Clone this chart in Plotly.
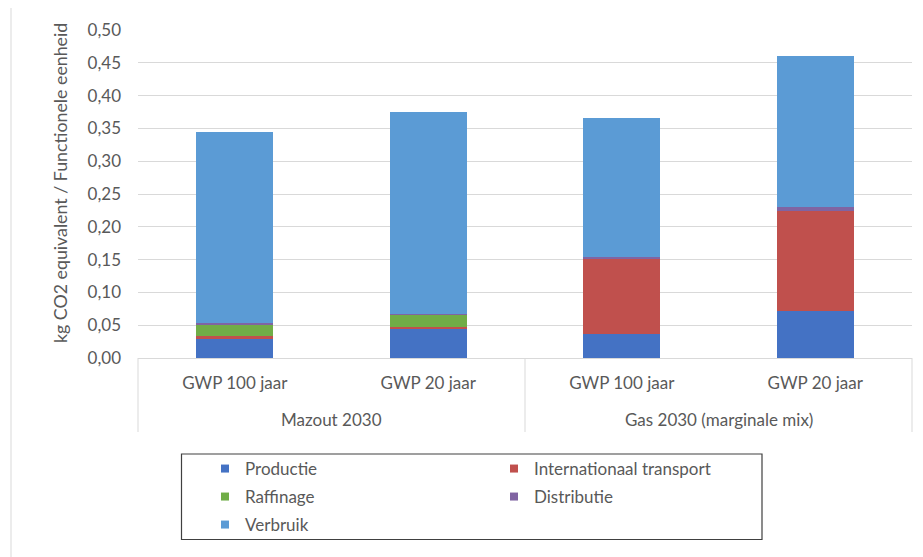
import plotly.graph_objects as go

# ---- data ----
categories = ["GWP 100 jaar", "GWP 20 jaar", "GWP 100 jaar", "GWP 20 jaar"]
group_labels = ["Mazout 2030", "Gas 2030 (marginale mix)"]
productie = [0.029, 0.045, 0.037, 0.071]
internationaal_transport = [0.0045, 0.0025, 0.115, 0.153]
raffinage = [0.018, 0.019, 0.0, 0.0]
distributie = [0.002, 0.001, 0.0025, 0.0057]
verbruik = [0.291, 0.307, 0.2115, 0.230]
y_ticks = [0.0, 0.05, 0.10, 0.15, 0.20, 0.25, 0.30, 0.35, 0.40, 0.45, 0.50]

series = [
    ("Productie", productie, "#4472C4", "legend"),
    ("Internationaal transport", internationaal_transport, "#C0504D", "legend"),
    ("Raffinage", raffinage, "#70AD47", "legend2"),
    ("Distributie", distributie, "#8064A2", "legend2"),
    ("Verbruik", verbruik, "#5B9BD5", "legend3"),
]

# page offset of the figure inside the browser page
OFF = 8
W, H = 923, 557
L = 138 - OFF
T = 30 - OFF
B = H - (358 - OFF)
R = W - (912 - OFF)
PW, PH = W - L - R, H - T - B


def px(p):
    return (p - OFF - L) / PW


def py(p):
    return (H - B - (p - OFF)) / PH


FONT = "Lato"
TXT = "#595959"
GRID = "#D9D9D9"

xpos = list(range(len(categories)))

fig = go.Figure()
for name, vals, color, lg in series:
    fig.add_trace(go.Bar(x=xpos, y=vals, name=name, marker=dict(color=color, line=dict(width=0)),
                         width=0.4, showlegend=False))
for name, vals, color, lg in series:
    fig.add_trace(go.Scatter(x=[None], y=[None], mode="markers", name=name, legend=lg,
                             marker=dict(symbol="square", size=8, color=color)))

legend_common = dict(orientation="h", x=px(205), xanchor="left", yanchor="middle",
                     entrywidth=244, bgcolor="rgba(0,0,0,0)", borderwidth=0,
                     font=dict(family=FONT, size=17, color=TXT), traceorder="normal")

fig.update_layout(
    width=W, height=H,
    margin=dict(l=L, r=R, t=T, b=B),
    paper_bgcolor="white", plot_bgcolor="white",
    barmode="stack",
    separators=",.",
    font=dict(family=FONT, size=17, color=TXT),
    legend=dict(**legend_common, y=py(469)),
    legend2=dict(**legend_common, y=py(497)),
    legend3=dict(**legend_common, y=py(525)),
    xaxis=dict(range=[-0.5, 3.5], tickvals=xpos, ticktext=categories, showgrid=False,
               showline=True, linecolor=GRID, linewidth=1, ticks="", zeroline=False,
               ticklabelstandoff=10, tickfont=dict(family=FONT, size=17, color=TXT)),
    yaxis=dict(range=[0, 0.5], tickvals=y_ticks, tickformat=".2f", showgrid=True, gridcolor=GRID,
               gridwidth=1, zeroline=False, showline=False, ticks="", ticklabelstandoff=16,
               tickfont=dict(family=FONT, size=17, color=TXT)),
    showlegend=True,
)

# group labels
for i, g in enumerate(group_labels):
    fig.add_annotation(x=2 * i + 0.5, y=py(419), xref="x", yref="paper", text=g, showarrow=False,
                       font=dict(family=FONT, size=17, color=TXT), yanchor="middle")

# y axis title
fig.add_annotation(x=px(60), y=py(183), xref="paper", yref="paper",
                   text="kg CO2 equivalent / Functionele eenheid", textangle=-90, showarrow=False,
                   font=dict(family=FONT, size=17.8, color=TXT), xanchor="center", yanchor="middle")

# group dividers (at category group boundaries: paper 0, 0.5, 1)
for xp in [0.0, 0.5, 1.0]:
    fig.add_shape(type="line", xref="paper", yref="paper", x0=xp, x1=xp, y0=0, y1=py(432),
                  line=dict(color=GRID, width=1))

# legend box
fig.add_shape(type="rect", xref="paper", yref="paper", x0=px(181.5), x1=px(762), y0=py(454), y1=py(539.5),
              line=dict(color="#404040", width=1.2), fillcolor="rgba(0,0,0,0)")

# outer chart border
fig.add_shape(type="rect", xref="paper", yref="paper", x0=px(11), x1=px(960), y0=py(6), y1=py(600),
              line=dict(color=GRID, width=1), fillcolor="rgba(0,0,0,0)")

fig.write_html("out.html")
